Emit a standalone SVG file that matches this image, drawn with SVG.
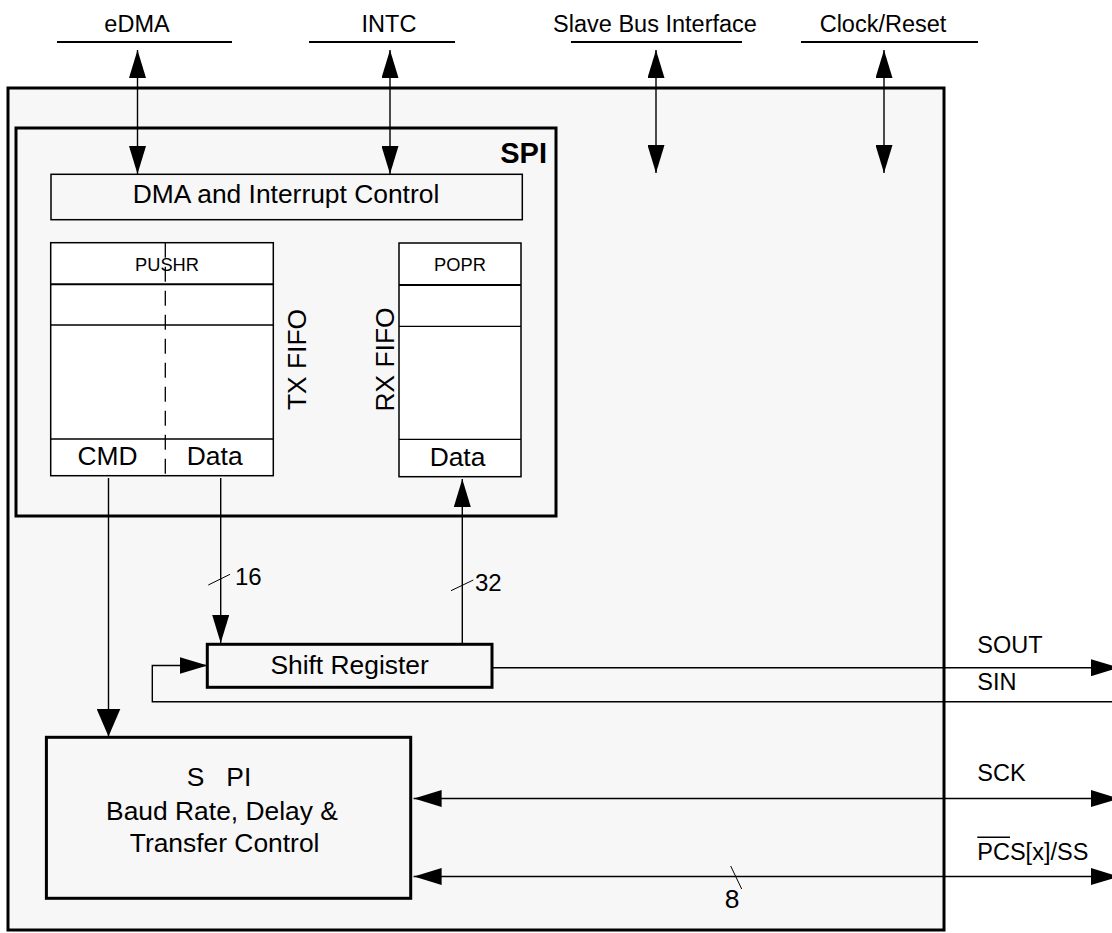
<svg xmlns="http://www.w3.org/2000/svg" width="1112" height="933" viewBox="0 0 1112 933">
<style>
text{font-family:"Liberation Sans",Arial,sans-serif;fill:#000}
.top{font-size:23.5px;text-anchor:middle}
.in{font-size:26.4px;text-anchor:middle}
.sm{font-size:18.3px;text-anchor:middle}
.sig{font-size:23.5px}
.box{fill:#f7f7f7;stroke:#000}
.wbox{fill:#fff;stroke:#000;stroke-width:1.5}
.ln{fill:none;stroke:#000;stroke-width:1.4}
.thin{fill:none;stroke:#000;stroke-width:1}
</style>
<defs>
<marker id="ah" viewBox="0 0 28 17" markerWidth="28" markerHeight="17" refX="28" refY="8.5" markerUnits="userSpaceOnUse" orient="auto-start-reverse"><path d="M0,0 L28,8.5 L0,17 Z" fill="#000"/></marker>
<marker id="ahb" viewBox="0 0 28 24" markerWidth="28" markerHeight="24" refX="28" refY="12" markerUnits="userSpaceOnUse" orient="auto-start-reverse"><path d="M0,0 L28,12 L0,24 Z" fill="#000"/></marker>
</defs>
<rect width="1112" height="933" fill="#fff"/>
<g id="outer"><rect class="box" x="8" y="88" width="936" height="842" stroke-width="3"/></g>
<g id="spi"><rect class="box" x="16" y="128" width="540" height="388" stroke-width="3"/>
<text x="547" y="163" style="font-size:29px;font-weight:bold;text-anchor:end">SPI</text></g>
<g id="labels">
<text class="top" x="137" y="32">eDMA</text><line x1="57" y1="42" x2="232" y2="42" stroke="#000" stroke-width="2"/>
<text class="top" x="389" y="32">INTC</text><line x1="309" y1="42" x2="455" y2="42" stroke="#000" stroke-width="2"/>
<text class="top" x="655" y="32">Slave Bus Interface</text><line x1="571" y1="42" x2="742" y2="42" stroke="#000" stroke-width="2"/>
<text class="top" x="883" y="32">Clock/Reset</text><line x1="801" y1="42" x2="978" y2="42" stroke="#000" stroke-width="2"/>
</g>
<g id="dma"><rect class="box" x="51" y="174.3" width="471.3" height="45.4" stroke-width="1.5"/>
<text class="in" x="286" y="203.3">DMA and Interrupt Control</text></g>
<g id="txfifo">
<rect class="wbox" x="50.7" y="242.7" width="222.6" height="233"/>
<line x1="50.7" y1="284.3" x2="273.3" y2="284.3" stroke="#000" stroke-width="2"/>
<line x1="50.7" y1="325" x2="273.3" y2="325" stroke="#000" stroke-width="1.3"/>
<line x1="50.7" y1="439" x2="273.3" y2="439" stroke="#000" stroke-width="1.3"/>
<line x1="165.3" y1="242.7" x2="165.3" y2="475.7" stroke="#000" stroke-width="1.3" stroke-dasharray="15,9"/>
<text class="sm" x="167" y="270.7">PUSHR</text>
<text class="in" x="107.5" y="465">CMD</text>
<text class="in" x="214.7" y="465">Data</text>
<text class="in" transform="translate(305.7 359.5) rotate(-90)">TX FIFO</text>
</g>
<g id="rxfifo">
<rect class="wbox" x="399" y="243" width="122" height="233.7"/>
<line x1="399" y1="285" x2="521" y2="285" stroke="#000" stroke-width="2"/>
<line x1="399" y1="326.3" x2="521" y2="326.3" stroke="#000" stroke-width="1.3"/>
<line x1="399" y1="439.3" x2="521" y2="439.3" stroke="#000" stroke-width="1.3"/>
<text class="sm" x="460" y="270.7">POPR</text>
<text class="in" x="457.5" y="466">Data</text>
<text class="in" transform="translate(394 359.5) rotate(-90)">RX FIFO</text>
</g>
<g id="shift"><rect class="box" x="207.3" y="644.3" width="284.7" height="43" stroke-width="3"/>
<text class="in" x="349.6" y="674.3">Shift Register</text></g>
<g id="baud"><rect class="box" x="46.4" y="737.3" width="364.3" height="161" stroke-width="3"/>
<text class="in" x="219" y="786" xml:space="preserve">S   PI</text>
<text class="in" x="222" y="820">Baud Rate, Delay &amp;</text>
<text class="in" x="224.6" y="851.7">Transfer Control</text></g>
<g id="connectors">
<line class="ln" x1="137.5" y1="50" x2="137.5" y2="174" marker-start="url(#ah)" marker-end="url(#ah)"/>
<line class="ln" x1="390" y1="50" x2="390" y2="174" marker-start="url(#ah)" marker-end="url(#ah)"/>
<line class="ln" x1="656" y1="50" x2="656" y2="173" marker-start="url(#ah)" marker-end="url(#ah)"/>
<line class="ln" x1="884" y1="50" x2="884" y2="173" marker-start="url(#ah)" marker-end="url(#ah)"/>
<line class="ln" x1="108.5" y1="478" x2="108.5" y2="736.5" marker-end="url(#ahb)"/>
<line class="ln" x1="220.7" y1="478" x2="220.7" y2="643" marker-end="url(#ah)"/>
<line class="ln" x1="462.3" y1="644" x2="462.3" y2="479" marker-end="url(#ah)"/>
<line class="ln" x1="492" y1="667.7" x2="1119" y2="667.7" marker-end="url(#ah)"/>
<polyline class="ln" points="1112,701.7 152.3,701.7 152.3,665.5 207.5,665.5" marker-end="url(#ah)"/>
<line class="ln" x1="413.6" y1="798.5" x2="1119" y2="798.5" marker-start="url(#ah)" marker-end="url(#ah)"/>
<line class="ln" x1="413.6" y1="876.5" x2="1119" y2="876.5" marker-start="url(#ah)" marker-end="url(#ah)"/>
<line class="thin" x1="208.3" y1="585" x2="230" y2="574.3"/>
<line class="thin" x1="451" y1="590.7" x2="473.3" y2="580"/>
<line class="thin" x1="730.7" y1="866" x2="741.7" y2="889"/>
</g>
<g id="buslabels">
<text class="sig" x="235" y="585" style="font-size:24px">16</text>
<text class="sig" x="475" y="590.7" style="font-size:24px">32</text>
<text class="in" x="732" y="908.3">8</text>
<text class="sig" x="977.3" y="653.3">SOUT</text>
<text class="sig" x="977.3" y="690">SIN</text>
<text class="sig" x="977.3" y="780.7">SCK</text>
<text class="sig" x="977.3" y="860">PCS[x]/SS</text>
<line x1="977.3" y1="837.3" x2="1010" y2="837.3" stroke="#000" stroke-width="1.5"/>
</g>
</svg>
